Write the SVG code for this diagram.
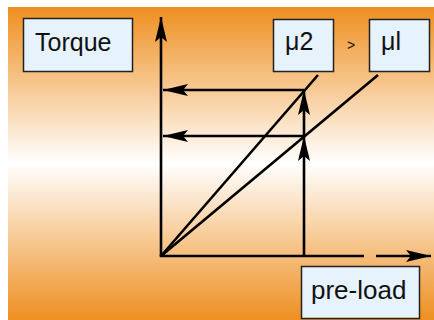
<svg xmlns="http://www.w3.org/2000/svg" width="434" height="320" viewBox="0 0 434 320">
<defs>
<linearGradient id="bg" x1="0" y1="0" x2="0" y2="1">
<stop offset="0" stop-color="#EE8F20"/>
<stop offset="0.5" stop-color="#FFFFFF"/>
<stop offset="1" stop-color="#EE8F20"/>
</linearGradient>
<marker id="ah" viewBox="-26 -7 27 14" refX="0" refY="0" markerWidth="27" markerHeight="14" markerUnits="userSpaceOnUse" orient="auto">
<path d="M0,0 L-25,-6 L-20,0 L-25,6 Z" fill="#000"/>
</marker>
</defs>
<style>
.box{fill:#E6F2FC;stroke:#222;stroke-width:1.5}
.t{font-family:"Liberation Sans",Arial,sans-serif;font-size:25px;fill:#111}
.ln{stroke:#000;stroke-width:2.6;fill:none}
</style>
<rect x="8" y="7" width="426" height="313" fill="url(#bg)"/>
<g id="torque"><rect class="box" x="23.5" y="18.5" width="109" height="53"/><text class="t" x="35" y="51">Torque</text></g>
<g id="mu2"><rect class="box" x="273.5" y="19.5" width="60" height="52"/><text class="t" x="285" y="50">μ2</text></g>
<g id="gt"><text class="t" x="347" y="50" style="font-size:14px">&gt;</text></g>
<g id="mu1"><rect class="box" x="369.5" y="19.5" width="60" height="52"/><text class="t" x="381" y="50">μl</text></g>
<g id="preload"><rect class="box" x="301.5" y="266.5" width="118" height="52"/><text class="t" x="311" y="299" style="font-size:26px">pre-load</text></g>
<g id="connectors">
<line class="ln" x1="161" y1="256" x2="161" y2="17" marker-end="url(#ah)"/>
<line class="ln" x1="159.7" y1="256" x2="364" y2="256"/>
<line class="ln" x1="376" y1="256" x2="431" y2="256" marker-end="url(#ah)"/>
<line class="ln" x1="161" y1="256" x2="318" y2="75"/>
<line class="ln" x1="161" y1="256" x2="378" y2="75"/>
<line class="ln" x1="304" y1="90" x2="163" y2="90" marker-end="url(#ah)"/>
<line class="ln" x1="304" y1="136" x2="163" y2="136" marker-end="url(#ah)"/>
<line class="ln" x1="304" y1="256" x2="304" y2="136" marker-end="url(#ah)"/>
<line class="ln" x1="304" y1="136" x2="304" y2="90" marker-end="url(#ah)"/>
</g>
</svg>
